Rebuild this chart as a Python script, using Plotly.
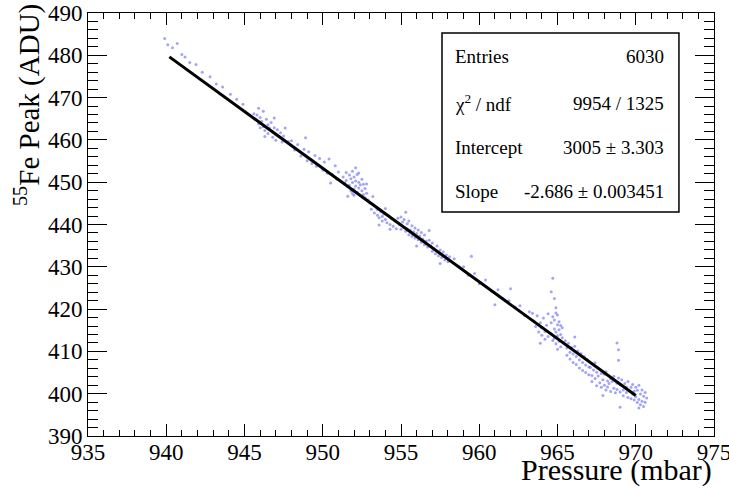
import plotly.graph_objects as go

# ---- data ----
pressure_a = [939.9, 940.1, 940.4, 940.7, 941.0, 941.2, 941.5, 941.9, 942.3, 942.8, 943.2, 943.6, 944.1, 944.5, 944.9]
peak_a = [484.0, 482.5, 481.8, 482.8, 480.2, 479.6, 478.3, 477.8, 476.0, 474.9, 473.2, 472.5, 470.8, 469.6, 468.4]

pressure_b = [945.6, 945.7, 945.8, 945.9, 946.0, 946.0, 946.1, 946.2, 946.2, 946.3, 946.4, 946.5, 946.5, 946.6, 946.7,
              946.8, 946.8, 946.9, 947.0, 947.0, 947.1, 947.2, 947.3, 947.4, 947.5, 946.3, 945.9, 947.6, 946.9, 947.8]
peak_b = [466.2, 464.8, 465.9, 463.8, 465.3, 462.9, 464.4, 466.8, 463.1, 462.2, 464.9, 463.6, 461.5, 462.8, 464.1,
          461.9, 460.6, 462.9, 461.2, 459.9, 462.4, 460.8, 461.7, 459.5, 460.9, 460.8, 467.5, 462.8, 465.2, 459.6]

pressure_c = [948.0, 948.2, 948.4, 948.6, 948.8, 949.0, 949.1, 949.3, 949.5, 949.6, 949.8, 950.0, 950.1, 950.3, 950.4,
              950.6, 950.8, 950.9, 951.0, 948.9, 950.5]
peak_c = [459.8, 457.6, 458.9, 456.2, 457.8, 455.1, 457.2, 454.4, 456.3, 453.8, 455.6, 452.9, 454.8, 452.1, 455.5,
          451.8, 453.9, 450.7, 452.4, 460.5, 449.8]

pressure_d = [951.3, 951.4, 951.5, 951.5, 951.6, 951.7, 951.7, 951.8, 951.8, 951.9, 951.9, 952.0, 952.0, 952.0, 952.1,
              952.1, 952.2, 952.2, 952.3, 952.3, 952.4, 952.4, 952.5, 952.5, 952.6, 952.6, 952.7, 952.7, 952.8, 952.1,
              951.6, 952.9, 952.3, 951.9, 952.8]
peak_d = [451.2, 449.8, 452.3, 450.4, 448.9, 451.7, 449.3, 450.8, 447.9, 452.6, 449.9, 451.2, 448.4, 446.9, 450.3,
          449.1, 451.8, 447.6, 450.0, 448.6, 449.4, 446.8, 450.7, 448.0, 447.1, 449.5, 446.3, 448.5, 447.4, 453.4,
          446.7, 445.8, 452.2, 447.3, 449.6]

pressure_e = [953.0, 953.1, 953.2, 953.3, 953.4, 953.5, 953.5, 953.6, 953.7, 953.8, 953.8, 953.9, 954.0, 954.1, 954.2,
              954.3, 954.4, 954.5, 954.6, 953.2, 954.0, 953.6, 954.3, 954.7]
peak_e = [445.1, 443.6, 444.8, 442.7, 444.1, 442.2, 443.5, 441.6, 443.0, 441.9, 440.8, 442.5, 441.2, 440.4, 442.1,
          440.0, 441.4, 439.6, 440.9, 446.6, 443.8, 439.9, 438.9, 439.0]

pressure_f = [954.8, 954.9, 955.0, 955.0, 955.1, 955.2, 955.2, 955.3, 955.4, 955.4, 955.5, 955.5, 955.6, 955.7, 955.7,
              955.8, 955.9, 955.9, 956.0, 956.1, 956.1, 956.2, 956.3, 956.3, 956.4, 956.5, 956.5, 956.6, 956.7, 956.8,
              956.9, 957.0, 957.0, 957.1, 957.2, 957.3, 957.4, 957.5, 957.6, 957.7, 957.8, 957.9, 958.0, 958.1, 955.3,
              956.0, 956.8, 957.5]
peak_f = [441.5, 440.0, 441.8, 438.9, 440.6, 439.3, 441.2, 438.4, 440.2, 439.0, 437.6, 440.8, 438.7, 439.7, 437.2,
          438.3, 436.8, 439.2, 437.9, 436.4, 438.7, 437.3, 435.8, 438.1, 436.6, 435.2, 437.5, 436.1, 434.7, 436.3,
          435.0, 433.7, 435.6, 434.3, 433.1, 434.9, 432.6, 434.0, 432.2, 433.5, 431.6, 432.8, 431.2, 432.4, 442.9,
          434.9, 438.6, 430.8]

pressure_g = [958.4, 958.7, 959.0, 959.3, 959.7, 960.0, 960.4, 960.8, 961.2, 961.5, 961.9, 962.3, 962.6, 962.9, 963.2,
              959.5, 961.0, 962.0]
peak_g = [431.9, 430.1, 430.0, 428.0, 428.4, 426.0, 426.9, 424.2, 424.6, 422.5, 422.0, 420.5, 420.8, 418.5, 419.4,
          432.5, 421.0, 424.8]

pressure_h = [963.4, 963.5, 963.6, 963.7, 963.8, 963.9, 964.0, 964.0, 964.1, 964.2, 964.2, 964.3, 964.4, 963.9, 964.4]
peak_h = [419.0, 417.2, 415.9, 418.4, 414.6, 416.8, 413.8, 415.6, 417.9, 412.9, 414.7, 416.2, 413.5, 411.9, 418.9]

pressure_i = [964.6, 964.6, 964.7, 964.7, 964.8, 964.8, 964.8, 964.9, 964.9, 964.9, 965.0, 965.0, 965.0, 965.1, 965.1,
              965.1, 965.2, 965.2, 965.2, 965.3, 965.3, 964.9, 965.0, 964.7, 964.6, 964.8, 965.4]
peak_i = [414.2, 416.8, 412.6, 418.2, 415.3, 413.1, 417.4, 419.1, 414.6, 411.8, 416.3, 413.7, 418.6, 415.1, 412.4,
          417.0, 414.0, 411.1, 416.1, 413.2, 415.6, 420.3, 410.5, 427.3, 424.1, 422.5, 411.9]

pressure_j = [965.5, 965.6, 965.6, 965.7, 965.8, 965.8, 965.9, 966.0, 966.0, 966.1, 966.2, 966.2, 966.3, 966.4, 966.4,
              966.5, 966.6, 966.6, 966.7, 966.8, 966.8, 966.9, 967.0, 967.0, 966.1]
peak_j = [412.5, 410.8, 409.1, 411.9, 409.8, 408.2, 410.9, 407.4, 409.4, 411.2, 406.9, 408.8, 410.1, 406.1, 408.0,
          409.5, 405.5, 407.4, 408.8, 405.0, 406.8, 408.1, 404.5, 406.3, 413.4]

pressure_k = [967.1, 967.2, 967.2, 967.3, 967.4, 967.5, 967.5, 967.6, 967.7, 967.8, 967.8, 967.9, 968.0, 968.0, 968.1,
              968.2, 968.2, 968.3, 968.4, 968.4, 967.4, 967.9, 968.1]
peak_k = [406.2, 404.3, 402.9, 405.6, 403.6, 405.1, 401.9, 404.2, 402.6, 404.8, 401.5, 403.3, 402.0, 404.6, 400.9,
          403.0, 401.6, 402.4, 400.5, 403.6, 407.3, 399.6, 405.2]

pressure_l = [968.5, 968.6, 968.6, 968.7, 968.8, 968.8, 968.9, 969.0, 969.0, 969.1, 969.2, 969.2, 969.3, 969.4, 969.4,
              969.5, 969.5, 969.6, 969.7, 969.7, 969.8, 968.9, 968.9, 968.8, 969.0]
peak_l = [402.9, 401.3, 404.1, 400.2, 402.5, 401.0, 403.7, 400.4, 402.1, 403.3, 400.9, 399.5, 402.4, 400.3, 401.6,
          399.1, 402.9, 400.7, 398.8, 401.5, 399.9, 407.9, 410.4, 412.0, 396.8]

pressure_m = [969.8, 969.9, 969.9, 970.0, 970.0, 970.1, 970.1, 970.2, 970.2, 970.3, 970.3, 970.4, 970.4, 970.5, 970.5,
              970.6, 970.6, 970.2, 970.7]
peak_m = [402.2, 400.6, 398.5, 401.5, 399.3, 397.9, 400.8, 398.6, 402.0, 397.4, 399.9, 398.2, 400.9, 397.0, 399.4,
          398.0, 400.3, 396.6, 399.0]

# fit result (pol1)
fit_intercept = 3005.0
fit_slope = -2.686
fit_range = [940.2, 970.0]

stats_labels = ["Entries", "χ<sup>2</sup> / ndf", "Intercept", "Slope"]
stats_values = ["6030", "9954 / 1325", "3005 ± 3.303", "-2.686 ± 0.003451"]

x_ticks = [935, 940, 945, 950, 955, 960, 965, 970, 975]
y_ticks = [390, 400, 410, 420, 430, 440, 450, 460, 470, 480, 490]

# ---- assemble ----
pressure = (pressure_a + pressure_b + pressure_c + pressure_d + pressure_e + pressure_f + pressure_g +
            pressure_h + pressure_i + pressure_j + pressure_k + pressure_l + pressure_m)
peak = (peak_a + peak_b + peak_c + peak_d + peak_e + peak_f + peak_g +
        peak_h + peak_i + peak_j + peak_k + peak_l + peak_m)

FONT = "Liberation Serif"

fig = go.Figure()
fig.add_trace(go.Scatter(
    x=pressure, y=peak, mode="markers",
    marker=dict(size=3, color="rgba(90,90,240,0.55)", line=dict(width=0)),
    hoverinfo="skip", showlegend=False))

fit_y = [fit_intercept + fit_slope * xv for xv in fit_range]
fig.add_trace(go.Scatter(
    x=fit_range, y=fit_y, mode="lines",
    line=dict(color="black", width=3), showlegend=False))

axis_common = dict(
    showline=True, linecolor="black", linewidth=1, mirror="ticks",
    ticks="inside", tickcolor="black", tickwidth=1,
    showgrid=False, zeroline=False, automargin=False,
    ticklabeloverflow="allow",
    tickfont=dict(family=FONT, size=23, color="black"),
)

fig.update_xaxes(range=[935, 975], tickvals=x_ticks, ticklen=12, ticklabelstandoff=-5,
                 minor=dict(dtick=1, ticklen=6, ticks="inside", tickcolor="black", showgrid=False),
                 **axis_common)
fig.update_yaxes(range=[390, 490], tickvals=y_ticks, ticklen=19,
                 minor=dict(dtick=2, ticklen=10, ticks="inside", tickcolor="black", showgrid=False),
                 **axis_common)

# stats box
fig.add_shape(type="rect", xref="paper", yref="paper",
              x0=0.5655, x1=0.944, y0=0.5296, y1=0.9527,
              line=dict(color="black", width=1.5), fillcolor="white", layer="above")

rows_y = [0.896, 0.787, 0.683, 0.577]
for lab, val, yy in zip(stats_labels, stats_values, rows_y):
    fig.add_annotation(xref="paper", yref="paper", x=0.583, y=yy, text=lab,
                       showarrow=False, xanchor="left", yanchor="middle",
                       font=dict(family=FONT, size=19, color="black"))
    fig.add_annotation(xref="paper", yref="paper", x=0.923, y=yy, text=val,
                       showarrow=False, xanchor="right", yanchor="middle",
                       font=dict(family=FONT, size=19, color="black"))

# axis titles (ROOT style, right/top aligned)
fig.add_annotation(xref="paper", yref="paper", x=1.0, y=-0.081, text="Pressure (mbar)",
                   showarrow=False, xanchor="right", yanchor="middle",
                   font=dict(family=FONT, size=30, color="black"))
fig.add_annotation(xref="paper", yref="paper", x=-0.0974, y=1.026, text="<sup>55</sup>Fe Peak (ADU)",
                   showarrow=False, xanchor="center", yanchor="top", textangle=-90,
                   font=dict(family=FONT, size=29, color="black"))

fig.update_layout(
    width=729, height=491,
    margin=dict(l=88, r=15, t=13, b=55),
    font=dict(family=FONT, color="black"),
    paper_bgcolor="white", plot_bgcolor="white",
    showlegend=False,
)

# remove the page's default body margin so the figure sits at the window origin
fig.write_html("out.html", config=dict(displayModeBar=False),
               post_script="document.body.style.margin='0';document.body.style.overflow='hidden';")
